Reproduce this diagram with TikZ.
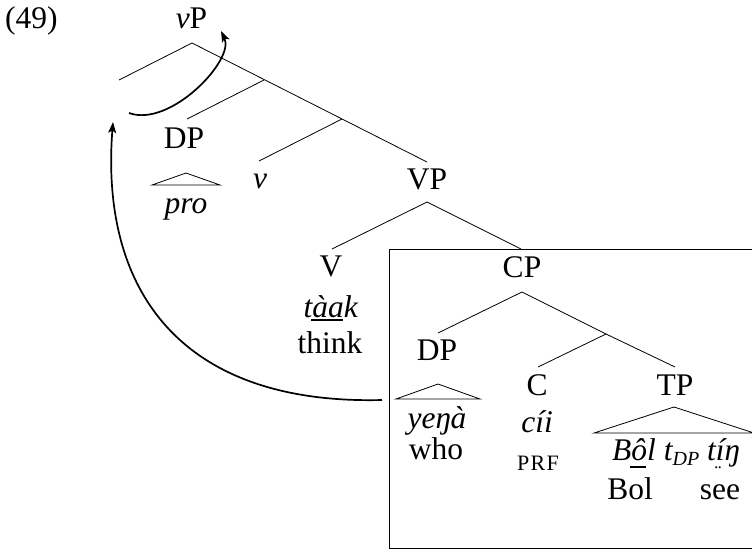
\documentclass[tikz,border=0pt]{standalone}
\usepackage{fontspec}
\setmainfont{Liberation Serif}
\usetikzlibrary{arrows.meta}
\newcommand\ulx[2]{\setbox2\hbox{#2}\rlap{\kern-0.04em\rule[-#1]{\wd2}{0.05em}}\box2}
\newcommand\brdots[1]{\setbox4\hbox{#1}\rlap{\hbox to \wd4{\hss\raisebox{-0.26em}{\fontsize{17}{17}\selectfont\kern-0.2em.\kern-0.04em.}\hss}}\box4}
\begin{document}
\begin{tikzpicture}[x=1pt,y=-1pt,
  lbl/.style={anchor=base,inner sep=0pt,font=\fontsize{31.5}{36}\selectfont},
  br/.style={line width=0.8pt},
  tri/.style={line width=0.8pt,line join=miter},
  mv/.style={line width=1.7pt,-{Stealth[length=11pt,width=8pt,inset=2.5pt]}},
  boxst/.style={line width=1pt}]
\useasboundingbox (0,0) rectangle (752,550);
\clip (0,0) rectangle (752,550);
% labels
\node[lbl,anchor=base west] (ex) at (5,28) {(49)};
\node[lbl] (vP) at (191.5,28) {\textit{v}P};
\node[lbl] (DP1) at (184,148) {DP};
\node[lbl] (pro) at (186,213) {\textit{pro}};
\node[lbl] (v) at (260,188) {\textit{v}};
\node[lbl] (VP) at (427,189) {VP};
\node[lbl] (V) at (331,276) {V};
\node[lbl] (CP) at (522,277) {CP};
\node[lbl] (taak) at (331,317) {\textit{t\ulx{0.12em}{àa}k}};
\node[lbl] (think) at (330,353) {think};
\node[lbl] (DP2) at (437,360) {DP};
\node[lbl] (yena) at (437,428) {\textit{yeŋà}};
\node[lbl] (who) at (436,459) {who};
\node[lbl] (C) at (537,395) {C};
\node[lbl] (TP) at (675,395) {TP};
\node[lbl] (cii) at (537,432) {\textit{cíi}};
\node[lbl,font=\fontsize{22}{24}\selectfont] (prf) at (538,470) {P\kern1.2pt R\kern1.2pt F};
\node[lbl] (tpstr) at (676,460) {\textit{B\ulx{0.24em}{ô}l t\raisebox{-0.17em}{\fontsize{20}{20}\selectfont DP} t\brdots{í}ŋ}};
\node[lbl] (bol) at (630,499) {Bol};
\node[lbl] (see) at (720,499) {see};
% branching points
\coordinate (vPtop) at (192,43);
\coordinate (spec) at (119,80);
\coordinate (b1) at (264,80);
\coordinate (DP1top) at (187,119);
\coordinate (b2) at (342,119);
\coordinate (vtop) at (259,161);
\coordinate (VPtop) at (427,162);
\coordinate (VPbot) at (427,202);
\coordinate (Vtop) at (332,249);
\coordinate (CPtop) at (521,249);
\coordinate (CPbot) at (522,292);
\coordinate (DP2top) at (438,333);
\coordinate (Cbar) at (606,334);
\coordinate (Ctop) at (538,367);
\coordinate (TPtop) at (675,367);
\draw[br] (spec) -- (vPtop) -- (VPtop);
\draw[br] (b1) -- (DP1top);
\draw[br] (b2) -- (vtop);
\draw[br] (Vtop) -- (VPbot) -- (CPtop);
\draw[br] (DP2top) -- (CPbot) -- (Cbar);
\draw[br] (Ctop) -- (Cbar) -- (TPtop);
% triangles
\coordinate (t1a) at (186,173); \coordinate (t1b) at (152,185); \coordinate (t1c) at (220,185);
\draw[tri] (t1a) -- (t1b) -- (t1c) -- cycle;
\coordinate (t2a) at (438,384); \coordinate (t2b) at (396,399); \coordinate (t2c) at (480,399);
\draw[tri] (t2a) -- (t2b) -- (t2c) -- cycle;
\coordinate (t3a) at (674,407); \coordinate (t3b) at (594,433); \coordinate (t3c) at (754,433);
\draw[tri] (t3a) -- (t3b) -- (t3c) -- cycle;
% box
\coordinate (boxa) at (389,249.5); \coordinate (boxb) at (780,548.5);
\draw[boxst] (boxa) rectangle (boxb);
% movement arrows
\coordinate (m1s) at (382,400); \coordinate (m1e) at (113,122);
\draw[mv] (m1s) .. controls (180,405) and (100,290) .. (m1e);
\coordinate (m2s) at (129,113); \coordinate (m2e) at (221,31);
\draw[mv] (m2s) .. controls (170,128) and (235,60) .. (m2e);
\end{tikzpicture}
\end{document}
